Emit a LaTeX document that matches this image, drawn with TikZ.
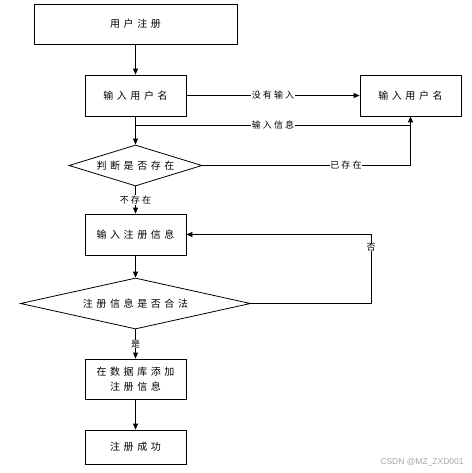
\documentclass[tikz,border=0pt]{standalone}
\usepackage{fontspec}
\setsansfont{Liberation Sans}
\newfontfamily\cjkbox[LetterSpace=36]{Noto Sans CJK SC}
\newfontfamily\cjklbl[LetterSpace=24]{Noto Sans CJK SC}
\usetikzlibrary{shapes.geometric,arrows.meta}
\begin{document}
\begin{tikzpicture}[x=1pt,y=-1pt,
  flow/.style={line width=0.8pt},
  arr/.style={flow,-{Triangle[length=6pt,width=5pt]}},
  box/.style={draw,line width=0.8pt,minimum width=101pt,minimum height=41pt,inner sep=0pt,
    font=\cjkbox\fontsize{10}{15}\selectfont,align=center},
  dia/.style={draw,diamond,line width=0.8pt,inner sep=0pt,
    font=\cjkbox\fontsize{10}{13}\selectfont},
  lbl/.style={fill=white,inner sep=0.5pt,font=\cjklbl\fontsize{9}{11}\selectfont}]
\useasboundingbox (0,0) rectangle (471,473);
\node[box,minimum width=203pt,minimum height=40pt] (b1) at (135.5,24) {用户注册};
\node[box] (b2) at (135.5,95.5) {输入用户名};
\node[box] (b3) at (410.5,95.5) {输入用户名};
\node[dia,aspect=3.2,minimum width=133pt,minimum height=41pt] (d1) at (135.5,165.5) {判断是否存在};
\node[box] (b4) at (135.5,234.5) {输入注册信息};
\node[dia,aspect=4.5,minimum width=230pt,minimum height=51pt] (d2) at (135.5,303.5) {注册信息是否合法};
\node[box,minimum height=40pt] (b5) at (135.5,379) {在数据库添加\\注册信息};
\node[box,minimum height=34pt] (b6) at (135.5,447) {注册成功};
\node[font=\sffamily\fontsize{8.5}{10}\selectfont,text=black!35,inner sep=0pt] (wm) at (422,462) {CSDN @MZ\_ZXD001};

\coordinate (j1) at (135.5,125);
\coordinate (j2) at (410.5,125);
\coordinate (c1) at (410.5,165.5);
\coordinate (c2) at (371,303.5);
\coordinate (c3) at (371,234.5);

\draw[arr] (b1) -- (b2);
\draw[arr] (b2) -- node[lbl]{没有输入} (b3);
\draw[arr] (b2) -- (d1);
\draw[flow] (j2) -- node[lbl]{输入信息} (j1);
\draw[arr] (d1.east) -- node[lbl,pos=0.69]{已存在} (c1) -- (b3);
\draw[arr] (d1) -- node[lbl]{不存在} (b4);
\draw[arr] (b4) -- (d2);
\draw[arr] (d2.east) -- (c2) -- node[lbl,pos=0.82]{否} (c3) -- (b4);
\draw[arr] (d2) -- node[lbl]{是} (b5);
\draw[arr] (b5) -- (b6);
\end{tikzpicture}
\end{document}
